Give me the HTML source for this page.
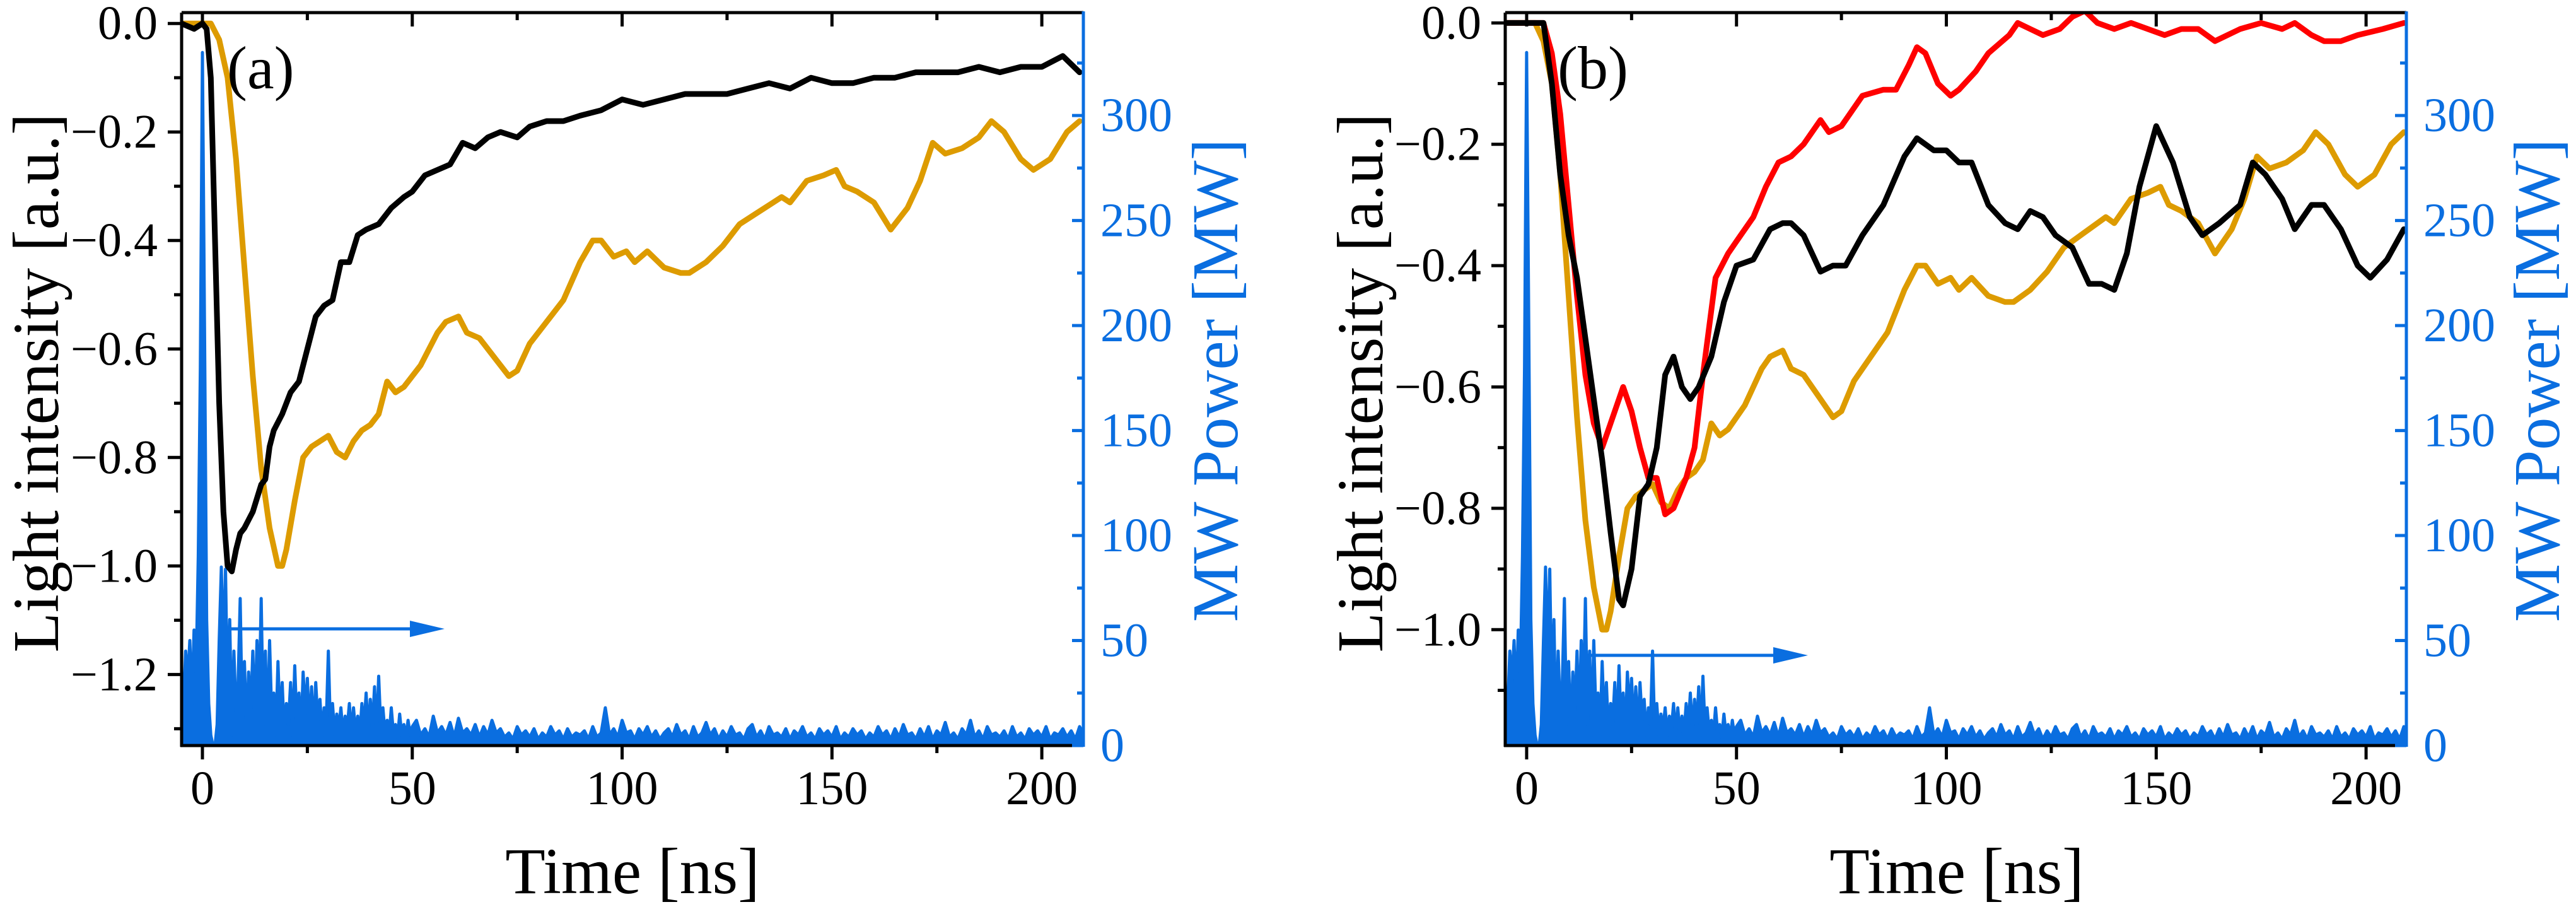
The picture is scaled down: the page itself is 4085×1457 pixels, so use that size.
<!DOCTYPE html>
<html><head><meta charset="utf-8"><style>
html,body{margin:0;padding:0;background:#fff;}
svg, svg text{font-family:"Liberation Serif","Times New Roman",serif;}
</style></head><body>
<svg id="chart" width="4085" height="1452" viewBox="0 0 4085 1452" xmlns="http://www.w3.org/2000/svg" font-family="Liberation Serif, serif"></svg>
<script>
// ---- data ----
const timeTicks = [0,50,100,150,200];
const mwTicks = [0,50,100,150,200,250,300];
const lightTicksA = [0,-0.2,-0.4,-0.6,-0.8,-1.0,-1.2];
const lightTicksB = [0,-0.2,-0.4,-0.6,-0.8,-1.0];

const blackA_t = [-5,-2,0,1,2,3,4,5,6,7,8,9,10,12,14,15,16,17,19,21,23,25,27,29,31,33,35,37,39,42,45,48,50,53,56,59,62,65,68,71,75,78,82,86,90,95,100,105,110,115,120,125,130,135,140,145,150,155,160,165,170,175,180,185,190,195,200,205,209];
const blackA_y = [0,-0.01,0,-0.01,-0.1,-0.4,-0.7,-0.9,-1.0,-1.01,-0.97,-0.94,-0.93,-0.9,-0.85,-0.84,-0.78,-0.75,-0.72,-0.68,-0.66,-0.6,-0.54,-0.52,-0.51,-0.44,-0.44,-0.39,-0.38,-0.37,-0.34,-0.32,-0.31,-0.28,-0.27,-0.26,-0.22,-0.23,-0.21,-0.2,-0.21,-0.19,-0.18,-0.18,-0.17,-0.16,-0.14,-0.15,-0.14,-0.13,-0.13,-0.13,-0.12,-0.11,-0.12,-0.1,-0.11,-0.11,-0.1,-0.1,-0.09,-0.09,-0.09,-0.08,-0.09,-0.08,-0.08,-0.06,-0.09];

const orange_t = [-5,0,2,4,6,8,10,12,14,16,18,19,20,22,24,26,28,30,32,34,36,38,40,42,44,46,48,52,56,58,61,63,66,70,73,75,78,82,86,90,93,95,98,101,103,106,110,114,116,120,124,128,132,136,138,140,144,148,151,153,156,160,164,168,171,174,177,181,185,188,191,195,198,202,206,209];
const orange_y = [0,0,0,-0.03,-0.1,-0.25,-0.45,-0.65,-0.82,-0.93,-1.0,-1.0,-0.97,-0.88,-0.8,-0.78,-0.77,-0.76,-0.79,-0.8,-0.77,-0.75,-0.74,-0.72,-0.66,-0.68,-0.67,-0.63,-0.57,-0.55,-0.54,-0.57,-0.58,-0.62,-0.65,-0.64,-0.59,-0.55,-0.51,-0.44,-0.4,-0.4,-0.43,-0.42,-0.44,-0.42,-0.45,-0.46,-0.46,-0.44,-0.41,-0.37,-0.35,-0.33,-0.32,-0.33,-0.29,-0.28,-0.27,-0.3,-0.31,-0.33,-0.38,-0.34,-0.29,-0.22,-0.24,-0.23,-0.21,-0.18,-0.2,-0.25,-0.27,-0.25,-0.2,-0.18];

const blackB_t = [-5,2,4,6,8,10,12,14,16,18,20,22,23,25,27,29,31,33,35,37,39,41,44,47,50,54,58,61,63,66,70,73,76,80,85,90,93,97,100,103,106,110,114,117,120,123,126,130,134,137,140,143,146,150,154,158,161,165,170,173,176,180,183,187,190,194,198,201,205,209];
const blackB_y = [0,0,0,-0.1,-0.25,-0.35,-0.42,-0.52,-0.62,-0.72,-0.84,-0.95,-0.96,-0.9,-0.78,-0.76,-0.7,-0.58,-0.55,-0.6,-0.62,-0.6,-0.55,-0.46,-0.4,-0.39,-0.34,-0.33,-0.33,-0.35,-0.41,-0.4,-0.4,-0.35,-0.3,-0.22,-0.19,-0.21,-0.21,-0.23,-0.23,-0.3,-0.33,-0.34,-0.31,-0.32,-0.35,-0.37,-0.43,-0.43,-0.44,-0.38,-0.27,-0.17,-0.23,-0.32,-0.35,-0.33,-0.3,-0.23,-0.25,-0.29,-0.34,-0.3,-0.3,-0.34,-0.4,-0.42,-0.39,-0.34];

const redB_t = [-5,4,6,8,10,12,14,16,18,19,21,23,25,27,29,31,33,35,38,40,42,45,48,50,54,57,60,63,66,70,72,75,80,85,88,91,93,95,98,101,103,107,110,115,117,120,123,127,130,133,136,140,144,148,152,156,160,164,167,170,175,180,183,187,190,194,198,204,209];
const redB_y = [0,0,-0.05,-0.15,-0.3,-0.45,-0.58,-0.66,-0.7,-0.68,-0.64,-0.6,-0.64,-0.7,-0.75,-0.75,-0.81,-0.8,-0.75,-0.7,-0.58,-0.42,-0.38,-0.36,-0.32,-0.27,-0.23,-0.22,-0.2,-0.16,-0.18,-0.17,-0.12,-0.11,-0.11,-0.07,-0.04,-0.05,-0.1,-0.12,-0.11,-0.08,-0.05,-0.02,0.0,-0.01,-0.02,-0.01,0.01,0.02,0.0,-0.01,0.0,-0.01,-0.02,-0.01,-0.01,-0.03,-0.02,-0.01,0.0,-0.01,0.0,-0.02,-0.03,-0.03,-0.02,-0.01,0.0];

// MW power: 0.5 ns samples from -5 to 50 ns, then 1 ns samples 51..210 ns
const mwEarly = [0,20,45,30,50,20,55,35,90,180,330,200,60,20,5,0,0,10,50,85,40,84,20,60,5,45,15,30,70,10,40,5,35,15,45,10,50,20,70,10,45,5,50,15,25,5,40,10,30,5,20,10,30,5,38,10,25,5,35,15,32,8,28,5,30,12,22,5,18,10,45,8,20,5,15,8,18,5,14,8,20,5,18,6,14,5,20,8,25,6,22,8,28,5,33,8,18,6,12,5,18,6,10,4,15,5,10,4,12,5,9];
const mwLate = [12,5,8,4,14,6,9,5,11,4,13,6,8,5,10,4,9,5,12,6,
8,4,6,3,9,5,7,4,8,3,6,4,9,5,7,3,8,4,6,5,
7,3,9,4,6,18,5,8,4,12,6,7,3,8,5,9,4,7,3,6,
8,4,10,5,7,3,9,4,6,11,5,8,3,7,4,9,5,6,3,8,
10,4,7,3,9,5,6,4,8,3,7,5,9,4,6,3,8,5,7,4,
9,3,6,4,8,5,7,3,6,4,9,5,7,3,8,4,10,5,6,3,
8,4,9,3,7,5,11,4,6,3,8,5,12,4,7,3,9,5,6,4,
7,3,9,4,6,3,8,5,7,4,9,3,6,5,8,4,7,3,9,5];

// ---- drawing ----
const NS = "http://www.w3.org/2000/svg";
const FONT = 'Liberation Serif, Times New Roman, serif';
const svg = document.getElementById('chart');
function el(tag, attrs, parent){ const e=document.createElementNS(NS,tag); for(const k in attrs) e.setAttribute(k,attrs[k]); if(tag==='text') e.setAttribute('font-family',FONT); (parent||svg).appendChild(e); return e; }
const BLUE = '#0a6ee0', ORANGE = '#dd9b00';

function mwSeries(){
  const pts=[];
  mwEarly.forEach((v,i)=>pts.push([-5+i*0.5, v]));
  mwLate.forEach((v,i)=>pts.push([51+i, v]));
  return pts;
}

function panel(cfg){
  const g = el('g',{});
  
  
  const x = t => cfg.L + (t - cfg.x0) / (cfg.x1 - cfg.x0) * (cfg.R - cfg.L);
  const y = v => cfg.B - (v - cfg.y0) / (cfg.y1 - cfg.y0) * (cfg.B - cfg.T);
  const yr = v => cfg.B - v / cfg.r1 * (cfg.B - cfg.T);
  const clipId = cfg.name + '-clip';
  const defs = el('defs',{},g);
  const cp = el('clipPath',{id:clipId},defs);
  el('rect',{x:cfg.L,y:cfg.T,width:cfg.R-cfg.L,height:cfg.B-cfg.T},cp);
  const plot = el('g',{'clip-path':'url(#'+clipId+')'},g);

  const mw = mwSeries();
  let d = 'M'+x(mw[0][0])+','+yr(0);
  mw.forEach(p=>{ d += ' L'+x(p[0]).toFixed(1)+','+yr(p[1]).toFixed(1); });
  d += ' L'+x(mw[mw.length-1][0])+','+yr(0)+' Z';
  const mwp = el('path',{d:d,fill:BLUE,stroke:BLUE,'stroke-width':5,'stroke-linejoin':'round'},plot);
  
  

  function line(ts, ys, color, nm){
    const dd = ts.map((t,i)=>(i?'L':'M')+x(t).toFixed(1)+','+y(ys[i]).toFixed(1)).join(' ');
    const p = el('path',{d:dd,fill:'none',stroke:color,'stroke-width':9,'stroke-linejoin':'round','stroke-linecap':'round'},plot);
    
    
  }
  cfg.series.forEach(s=>line(s[0],s[1],s[2],s[3]));

  const ar = el('g',{},g);
  
  
  el('line',{x1:cfg.arrow[0],y1:cfg.arrow[2],x2:cfg.arrow[1]-30,y2:cfg.arrow[2],stroke:BLUE,'stroke-width':5},ar);
  el('polygon',{points:(cfg.arrow[1])+','+cfg.arrow[2]+' '+(cfg.arrow[1]-55)+','+(cfg.arrow[2]-13)+' '+(cfg.arrow[1]-55)+','+(cfg.arrow[2]+13),fill:BLUE},ar);

  el('line',{x1:cfg.L,y1:cfg.T,x2:cfg.R,y2:cfg.T,stroke:'#000','stroke-width':5},g);
  el('line',{x1:cfg.L,y1:cfg.T,x2:cfg.L,y2:cfg.B+2,stroke:'#000','stroke-width':5},g);
  el('line',{x1:cfg.L-2,y1:cfg.B,x2:cfg.R,y2:cfg.B,stroke:'#000','stroke-width':5},g);
  el('line',{x1:cfg.R,y1:cfg.T-2,x2:cfg.R,y2:cfg.B+2,stroke:BLUE,'stroke-width':5},g);

  for(let t=0;t<=cfg.x1;t+=25){
    const major = t%50===0, len = major?22:12;
    el('line',{x1:x(t),y1:cfg.B,x2:x(t),y2:cfg.B+len,stroke:'#000','stroke-width':5},g);
    el('line',{x1:x(t),y1:cfg.T,x2:x(t),y2:cfg.T+len,stroke:'#000','stroke-width':5},g);
  }
  timeTicks.forEach(t=>{
    const tx = el('text',{x:x(t),y:cfg.B+93,'font-size':76,'text-anchor':'middle',fill:'#000'},g);
    tx.textContent = String(t);
    
    
  });
  for(let v=0; v>=cfg.y0-1e-9; v-=0.1){
    const major = Math.round(v*10)%2===0, len = major?22:12;
    el('line',{x1:cfg.L-len,y1:y(v),x2:cfg.L,y2:y(v),stroke:'#000','stroke-width':5},g);
  }
  cfg.lticks.forEach(v=>{
    const tx = el('text',{x:cfg.L-38,y:y(v)+25,'font-size':76,'text-anchor':'end',fill:'#000'},g);
    tx.textContent = (v===0?'0.0':'\u2212'+Math.abs(v).toFixed(1));
    
    
  });
  for(let v=0; v<=cfg.r1; v+=25){
    const len = v%50===0?18:10;
    el('line',{x1:cfg.R-len,y1:yr(v),x2:cfg.R,y2:yr(v),stroke:BLUE,'stroke-width':5},g);
  }
  mwTicks.forEach(v=>{
    const tx = el('text',{x:cfg.R+27,y:yr(v)+25,'font-size':76,'text-anchor':'start',fill:BLUE},g);
    tx.textContent = String(v);
    
    
  });
  const xt = el('text',{x:cfg.xTitle[0],y:cfg.xTitle[1],'font-size':104,'text-anchor':'middle',fill:'#000'},g);
  xt.textContent = 'Time [ns]';
  
  
  const lt = el('text',{x:0,y:0,'font-size':104,'text-anchor':'middle',fill:'#000',transform:'translate('+cfg.lTitle[0]+','+cfg.lTitle[1]+') rotate(-90)'},g);
  lt.textContent = 'Light intensity [a.u.]';
  
  
  const rt = el('text',{x:0,y:0,'font-size':104,'text-anchor':'middle',fill:BLUE,transform:'translate('+cfg.rTitle[0]+','+cfg.rTitle[1]+') rotate(-90)'},g);
  rt.textContent = 'MW Power [MW]';
  
  
  const pl = el('text',{x:cfg.label[0],y:cfg.label[1],'font-size':96,fill:'#000'},g);
  pl.textContent = cfg.labelText;
  
  
}

panel({name:'panel-a', L:288, R:1718, T:20, B:1182, x0:-4.96, x1:209.9, y0:-1.331, y1:0.02, r1:349,
  lticks:lightTicksA,
  series:[[orange_t,orange_y,ORANGE,'orange-series-a'],[blackA_t,blackA_y,'#000','black-series-a']],
  arrow:[365,705,997], xTitle:[1003,1416], lTitle:[92,607], rTitle:[1962,603], label:[360,140], labelText:'(a)'});

panel({name:'panel-b', L:2387, R:3816, T:20, B:1182, x0:-5.1, x1:209.6, y0:-1.191, y1:0.017, r1:349,
  lticks:lightTicksB,
  series:[[orange_t,orange_y,ORANGE,'orange-series-b'],[redB_t,redB_y,'#ff0000','red-series-b'],[blackB_t,blackB_y,'#000','black-series-b']],
  arrow:[2517,2867,1039], xTitle:[3103,1416], lTitle:[2192,607], rTitle:[4058,603], label:[2470,140], labelText:'(b)'});
</script>
</body></html>
